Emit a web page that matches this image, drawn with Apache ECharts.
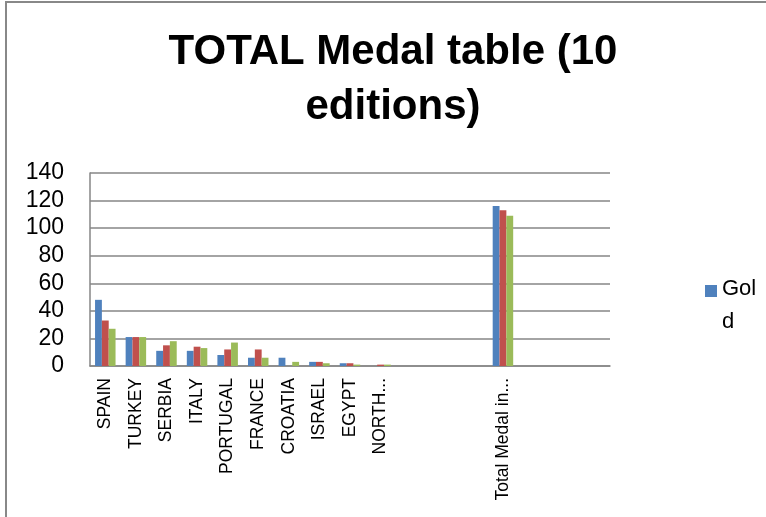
<!DOCTYPE html>
<html>
<head>
<meta charset="utf-8">
<script src="https://cdn.jsdelivr.net/npm/echarts@6/dist/echarts.min.js"></script>
<style>
html,body{margin:0;padding:0;background:#fff;}
#c{width:766px;height:517px;}
</style>
</head>
<body>
<div id="c"></div>
<script>
var categories = ['SPAIN','TURKEY','SERBIA','ITALY','PORTUGAL','FRANCE','CROATIA','ISRAEL','EGYPT','NORTH...','','','','Total Medal in...','','',''];
var gold   = [48,21,11,11,8,6,6,3,2,0,null,null,null,116,null,null,null];
var silver = [33,21,15,14,12,12,0,3,2,1,null,null,null,113,null,null,null];
var bronze = [27,21,18,13,17,6,3,2,1,1,null,null,null,109,null,null,null];
var yTicks = [0,20,40,60,80,100,120,140];

var chart = echarts.init(document.getElementById('c'), null, {renderer:'canvas'});
var font = 'Liberation Sans, Arial, sans-serif';
chart.setOption({
  animation:false,
  backgroundColor:'#fff',
  title:{
    text:'TOTAL Medal table (10\neditions)',
    left:388, textAlign:'center', top:20,
    textStyle:{fontFamily:font, fontWeight:'bold', fontSize:42, lineHeight:55, color:'#000'}
  },
  legend:{
    data:['Gold'],
    orient:'vertical',
    left:700, top:267,
    itemWidth:12, itemHeight:40,
    icon:'path://M0,0h12v12h-12z M0,40h0.01v0.01h-0.01z',
    formatter:function(){return 'Gol\nd';},
    textStyle:{fontFamily:font, fontSize:22, lineHeight:33, color:'#000'}
  },
  grid:{left:90, right:156, top:173, bottom:151, containLabel:false},
  xAxis:{
    type:'category', data:categories,
    axisTick:{show:false},
    axisLine:{lineStyle:{color:'#868686', width:1.5}},
    axisLabel:{interval:0, rotate:90, fontFamily:font, fontSize:17.5, color:'#000', margin:12}
  },
  yAxis:{
    type:'value', min:yTicks[0], max:yTicks[yTicks.length-1], interval:20,
    axisLine:{show:true, lineStyle:{color:'#868686', width:1.5}},
    axisTick:{show:false},
    splitLine:{lineStyle:{color:'#868686', width:1.5}},
    axisLabel:{fontFamily:font, fontSize:23, color:'#000', margin:26}
  },
  series:[
    {name:'Gold', type:'bar', data:gold, barGap:'0%', barCategoryGap:'33%', itemStyle:{color:'#4F81BD'}},
    {name:'Silver', type:'bar', data:silver, itemStyle:{color:'#C0504D'}},
    {name:'Bronze', type:'bar', data:bronze, itemStyle:{color:'#9BBB59'}}
  ],
  graphic:[{type:'rect', shape:{x:6, y:2, width:800, height:600}, style:{fill:null, stroke:'#888', lineWidth:2}, silent:true}]
});
</script>
</body>
</html>
